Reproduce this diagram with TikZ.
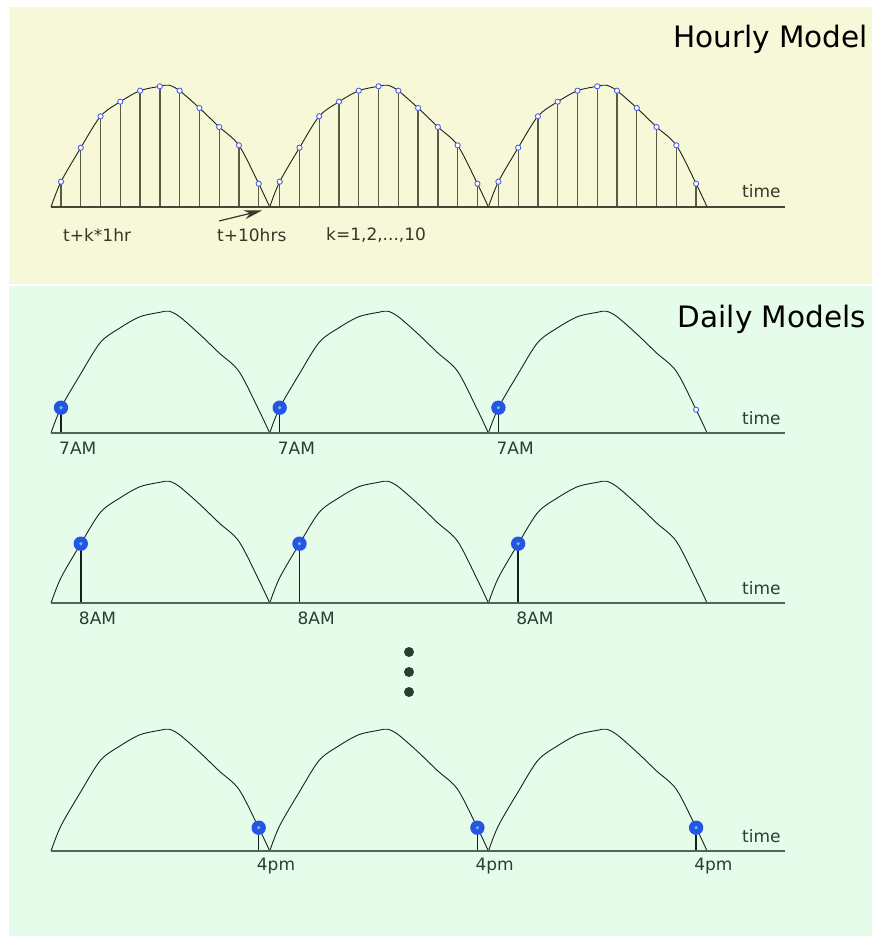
\documentclass[tikz,border=0pt]{standalone}
\usepackage{fontspec}
\setmainfont{DejaVu Sans}
\usetikzlibrary{arrows.meta}
\definecolor{panelY}{RGB}{247,248,216}
\definecolor{panelG}{RGB}{229,252,234}
\definecolor{axisY}{RGB}{70,70,55}
\definecolor{axisG}{RGB}{85,100,88}
\definecolor{stemY}{RGB}{90,90,70}
\definecolor{curveC}{RGB}{25,35,25}
\definecolor{ptBlue}{RGB}{80,95,225}
\definecolor{mkBlue}{RGB}{38,85,228}
\definecolor{mkCore}{RGB}{100,190,240}
\definecolor{txtY}{RGB}{55,55,40}
\definecolor{txtG}{RGB}{45,60,50}
\definecolor{dotC}{RGB}{45,60,48}
\tikzset{
  curveline/.style={draw=curveC, line width=0.9pt},
  axisline/.style={line width=1.5pt},
  stemtop/.style={draw=stemY, line width=1.3pt},
  stemday/.style={draw=curveC!90!black, line width=1.5pt},
  smallpt/.style={draw=ptBlue, fill=white, line width=0.9pt},
  lbl/.style={font=\fontsize{17}{20}\selectfont, inner sep=0pt},
  ttl/.style={font=\fontsize{29.5}{34}\selectfont, inner sep=0pt, text=black},
  hump/.pic={\draw[curveline] plot[smooth,tension=0.5] coordinates {(0,0) (10,-25.3) (29.8,-59.3) (49.5,-90.7) (69.3,-105.3) (89.1,-116.3) (108.9,-120.7) (118,-121.8) (128.6,-116.3) (148.4,-99) (168.2,-80) (187.9,-61.7) (207.7,-23.3) (218.7,0)};}
}
\def\hs{25.3,59.3,90.7,105.3,116.3,120.7,116.3,99,80,61.7,23.3}
\newcommand{\bluemark}[1]{\fill[mkBlue] (#1) circle (7.2pt); \fill[mkCore] (#1) circle (1.8pt);}
\begin{document}
\begin{tikzpicture}[x=1pt,y=-1pt]
\useasboundingbox (0,0) rectangle (872,936);
\fill[white] (0,0) rectangle (872,936);
\fill[panelY] (9,7) rectangle (872,284);
\fill[panelG] (9,286) rectangle (872,936);
% ---------- Hourly model ----------
\node[ttl, anchor=east] (t1) at (868,39) {Hourly Model};
\foreach \j in {0,1,2} {
  \foreach \h [count=\k from 0] in \hs {
    \coordinate (p\j-\k) at ({51+218.7*\j+10+19.77*\k},{207-\h});
    \coordinate (b\j-\k) at ({51+218.7*\j+10+19.77*\k},207);
    \draw[stemtop] (b\j-\k) -- (p\j-\k);
  }
  \pic at ({51+218.7*\j},207) {hump};
  \foreach \k in {0,...,10} { \draw[smallpt] (p\j-\k) circle (2.6pt); }
}
\coordinate (ax0s) at (51,207);
\coordinate (ax0e) at (785,207);
\draw[axisline, axisY] (ax0s) -- (ax0e);
\node[lbl, text=txtY, anchor=west] (tm0) at (742,191) {time};
\node[lbl, text=txtY, anchor=west] (l1) at (63,235) {t+k*1hr};
\node[lbl, text=txtY, anchor=west] (l2) at (217,235) {t+10hrs};
\node[lbl, text=txtY, anchor=west] (l3) at (326,235) {k=1,2,...,10};
\coordinate (arS) at (219,221);
\coordinate (arE) at (262,210.5);
\draw[axisY!80!black, line width=1.2pt, -{Stealth[length=18pt,width=9pt]}] (arS) -- (arE);
% ---------- Daily models ----------
\node[ttl, anchor=east] (t2) at (866,319) {Daily Models};
\foreach \B/\u/\h/\lab [count=\r] in {433/10/25.3/7AM, 603/29.77/59.3/8AM, 851/207.7/23.3/4pm} {
  \foreach \j in {0,1,2} {
    \pic at ({51+218.7*\j},\B) {hump};
    \coordinate (m\r-\j) at ({51+218.7*\j+\u},{\B-\h});
    \coordinate (s\r-\j) at ({51+218.7*\j+\u},\B);
    \draw[stemday] (s\r-\j) -- (m\r-\j);
    \bluemark{m\r-\j}
    \node[lbl, text=txtG, anchor=west] (lb\r-\j) at ({51+218.7*\j+\u-2},{\B+15}) {\lab};
  }
  \coordinate (as\r) at (51,\B);
  \coordinate (ae\r) at (785,\B);
  \draw[axisline, axisG] (as\r) -- (ae\r);
  \node[lbl, text=txtG, anchor=west] (tm\r) at (742,{\B-15}) {time};
}
\coordinate (extra) at ({51+218.7*2+207.7},{433-23.3});
\draw[smallpt] (extra) circle (2.6pt);
\foreach \y [count=\i] in {652,672,692} {
  \fill[dotC] (409,\y) circle (5pt);
}
\end{tikzpicture}
\end{document}
